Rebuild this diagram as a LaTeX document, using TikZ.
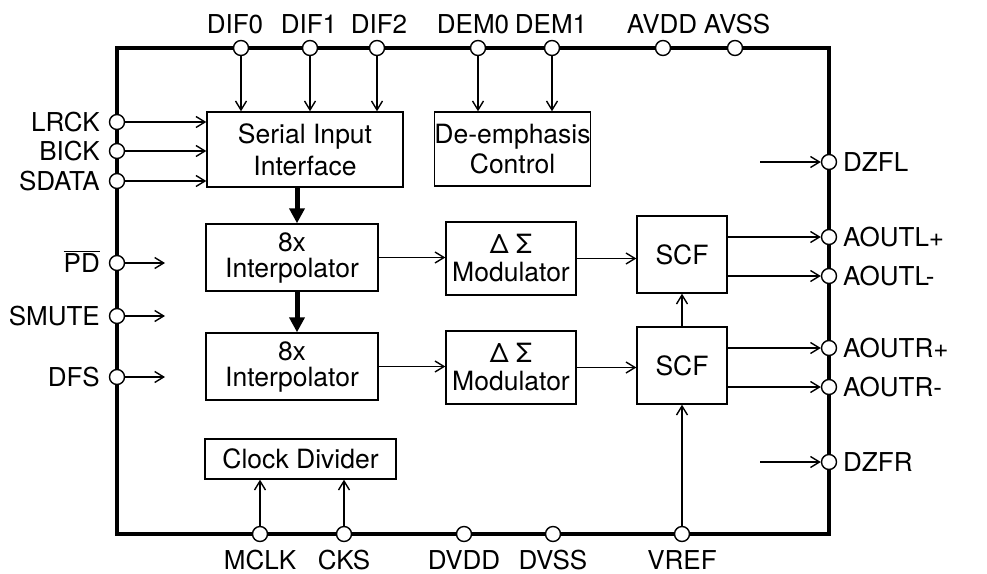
\documentclass[tikz,border=0pt]{standalone}
\usepackage{fontspec}
\setmainfont{TeX Gyre Heros}
\usetikzlibrary{arrows.meta}
\begin{document}
\begin{tikzpicture}[x=1pt,y=-1pt,
  conn/.style={line width=1.4, -{Straight Barb[length=9,width=11]}},
  bus/.style={line width=5, -{Triangle[length=15,width=15]}},
  pin/.style={circle,draw,fill=white,line width=1.4,minimum size=15,inner sep=0},
  blk/.style={draw,line width=1.4,inner sep=0,align=center,font=\fontsize{26.5}{32}\selectfont},
  lbl/.style={inner sep=0,font=\fontsize{26}{30}\selectfont},
]
\useasboundingbox (0,0) rectangle (987,573);
% chip outline
\draw[line width=4.5] (117,48) rectangle (829,534);

% blocks
\node[blk,minimum width=196,minimum height=75] (sii) at (305,149.5) {Serial Input\\Interface};
\node[blk,minimum width=155,minimum height=74] (dem) at (512.5,149) {De-emphasis\\[-2pt]Control};
\node[blk,minimum width=172,minimum height=67] (ip1) at (292,257.5) {8x\\[-6pt]Interpolator};
\node[blk,minimum width=172,minimum height=67] (ip2) at (292,366.5) {8x\\[-6pt]Interpolator};
\node[blk,minimum width=130,minimum height=73] (mod1) at (511,258.5) {Δ Σ\\[-4pt]Modulator};
\node[blk,minimum width=130,minimum height=73] (mod2) at (511,367.5) {Δ Σ\\[-4pt]Modulator};
\node[blk,minimum width=90,minimum height=77] (scf1) at (682,254.5) {SCF};
\node[blk,minimum width=90,minimum height=77] (scf2) at (682,365.5) {SCF};
\node[blk,minimum width=191,minimum height=40] (clk) at (300.5,459) {Clock Divider};

% top pins
\node[pin] (dif0) at (241,48) {};
\node[pin] (dif1) at (310,48) {};
\node[pin] (dif2) at (377,48) {};
\node[pin] (dem0) at (478,48) {};
\node[pin] (dem1) at (552,48) {};
\node[pin] (avdd) at (663,48) {};
\node[pin] (avss) at (735,48) {};
\node[lbl,anchor=base] (ldif0) at (235,33) {DIF0};
\node[lbl,anchor=base] (ldif1) at (309,33) {DIF1};
\node[lbl,anchor=base] (ldif2) at (379,33) {DIF2};
\node[lbl,anchor=base] (ldem0) at (473,33) {DEM0};
\node[lbl,anchor=base] (ldem1) at (551,33) {DEM1};
\node[lbl,anchor=base] (lavdd) at (662,33) {AVDD};
\node[lbl,anchor=base] (lavss) at (737,33) {AVSS};

% bottom pins
\node[pin] (mclk) at (260,534) {};
\node[pin] (cks) at (344,534) {};
\node[pin] (dvdd) at (464,534) {};
\node[pin] (dvss) at (553,534) {};
\node[pin] (vref) at (682,534) {};
\node[lbl,anchor=base] (lmclk) at (260,569) {MCLK};
\node[lbl,anchor=base] (lcks) at (344,569) {CKS};
\node[lbl,anchor=base] (ldvdd) at (464,569) {DVDD};
\node[lbl,anchor=base] (ldvss) at (553,569) {DVSS};
\node[lbl,anchor=base] (lvref) at (682,569) {VREF};

% left pins
\node[pin] (lrck) at (117,122) {};
\node[pin] (bick) at (117,151) {};
\node[pin] (sdata) at (117,181) {};
\node[pin] (pd) at (117,263) {};
\node[pin] (smute) at (117,316) {};
\node[pin] (dfs) at (117,377) {};
\node[lbl,anchor=east] (llrck) at (100,122) {LRCK};
\node[lbl,anchor=east] (lbick) at (100,151) {BICK};
\node[lbl,anchor=east] (lsdata) at (100,181) {SDATA};
\node[lbl,anchor=base east] (lpd) at (100,272) {$\overline{\mbox{PD}}$};
\node[lbl,anchor=east] (lsmute) at (100,316) {SMUTE};
\node[lbl,anchor=east] (ldfs) at (100,377) {DFS};

% right pins
\node[pin] (dzfl) at (829,162) {};
\node[pin] (aoutlp) at (829,237) {};
\node[pin] (aoutlm) at (829,276) {};
\node[pin] (aoutrp) at (829,348) {};
\node[pin] (aoutrm) at (829,387) {};
\node[pin] (dzfr) at (829,462) {};
\node[lbl,anchor=west] (ldzfl) at (843,162) {DZFL};
\node[lbl,anchor=west] (laoutlp) at (843,237) {AOUTL+};
\node[lbl,anchor=west] (laoutlm) at (843,276) {AOUTL-};
\node[lbl,anchor=west] (laoutrp) at (843,348) {AOUTR+};
\node[lbl,anchor=west] (laoutrm) at (843,387) {AOUTR-};
\node[lbl,anchor=west] (ldzfr) at (843,462) {DZFR};

% free ends
\coordinate (pdE) at (165,263);
\coordinate (smuteE) at (165,316);
\coordinate (dfsE) at (165,377);
\coordinate (dzflS) at (760,162);
\coordinate (dzfrS) at (760,462);
\coordinate (bx) at (297,0);

% connectors
\draw[conn] (dif0) -- (dif0 |- sii.north);
\draw[conn] (dif1) -- (dif1 |- sii.north);
\draw[conn] (dif2) -- (dif2 |- sii.north);
\draw[conn] (dem0) -- (dem0 |- dem.north);
\draw[conn] (dem1) -- (dem1 |- dem.north);
\draw[conn] (lrck) -- (lrck -| sii.west);
\draw[conn] (bick) -- (bick -| sii.west);
\draw[conn] (sdata) -- (sdata -| sii.west);
\draw[conn] (pd) -- (pdE);
\draw[conn] (smute) -- (smuteE);
\draw[conn] (dfs) -- (dfsE);
\draw[bus] (sii.south -| bx) -- (ip1.north -| bx);
\draw[bus] (ip1.south -| bx) -- (ip2.north -| bx);
\draw[conn] (ip1.east) -- (ip1.east -| mod1.west);
\draw[conn] (ip2.east) -- (ip2.east -| mod2.west);
\draw[conn] (mod1.east) -- (mod1.east -| scf1.west);
\draw[conn] (mod2.east) -- (mod2.east -| scf2.west);
\draw[conn] (scf1.east |- aoutlp) -- (aoutlp);
\draw[conn] (scf1.east |- aoutlm) -- (aoutlm);
\draw[conn] (scf2.east |- aoutrp) -- (aoutrp);
\draw[conn] (scf2.east |- aoutrm) -- (aoutrm);
\draw[conn] (scf2.north) -- (scf1.south);
\draw[conn] (vref) -- (scf2.south);
\draw[conn] (mclk) -- (mclk |- clk.south);
\draw[conn] (cks) -- (cks |- clk.south);
\draw[conn] (dzflS) -- (dzfl);
\draw[conn] (dzfrS) -- (dzfr);
\end{tikzpicture}
\end{document}
